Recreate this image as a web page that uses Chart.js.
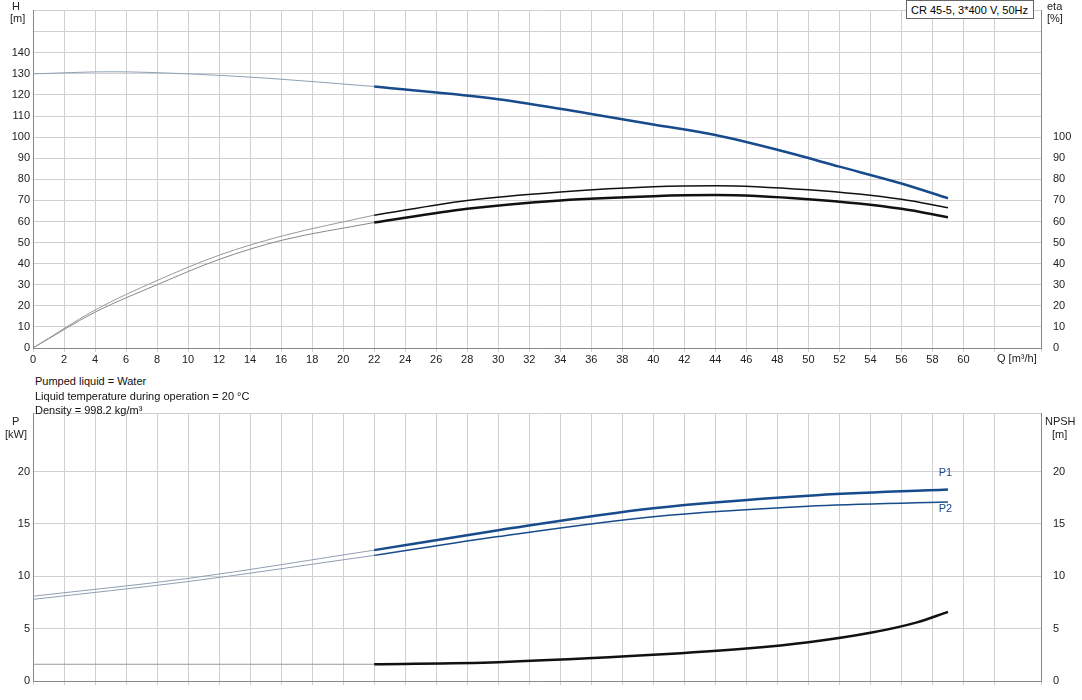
<!DOCTYPE html>
<html><head><meta charset="utf-8">
<script src="https://cdn.jsdelivr.net/npm/chart.js@4"></script>
<style>
body{margin:0;background:#fff;font-family:Arial,"Liberation Sans",sans-serif;}
#c1w{position:absolute;left:0;top:0;width:1082px;height:364px;}
#c2w{position:absolute;left:0;top:400px;width:1082px;height:300px;}
.t{position:absolute;left:35px;font-size:11px;color:#111;}
#box{position:absolute;left:906px;top:0;width:128px;height:19px;border:1px solid #666;font-size:11px;line-height:19px;padding-left:4px;box-sizing:border-box;background:#fff;}
</style></head><body>
<div id="c1w"><canvas id="c1"></canvas></div>
<div id="c2w"><canvas id="c2"></canvas></div>
<div class="t" style="top:375px">Pumped liquid = Water</div>
<div class="t" style="top:390px">Liquid temperature during operation = 20 °C</div>
<div class="t" style="top:404px">Density = 998.2 kg/m³</div>
<div id="box">CR 45-5, 3*400 V, 50Hz</div>
<script>
const qH=[0,5,10,15,22,30,36,40,44,48,52,56,59];
const H=[130,131,130,128,124,118,111,106,101,94,86,78,71];
const qE=[0,4,8,12,16,22,28,34,40,44,50,56,59];
const eta1=[0,18,32,44,53,63,70,74,76.5,77,75,70.5,66.5];
const eta2=[0,17,30,42,51,59.5,66,70,72,72.5,70.5,66,62];
const qP=[0,10,22,30,40,50,59];
const P1=[8.1,9.8,12.5,14.4,16.5,17.7,18.3];
const P2=[7.8,9.5,12,13.8,15.7,16.7,17.1];
const qN=[0,22,30,40,46,50,54,57,59];
const NPSH=[1.6,1.6,1.8,2.5,3.1,3.7,4.6,5.6,6.6];
const split=22;

function pts(xs,ys){return xs.map((x,i)=>({x,y:ys[i]}));}
function parts(xs,ys,thin,thick,wThin,wThick,axis){
  const p=pts(xs,ys);
  const a=p.filter(o=>o.x<=split), b=p.filter(o=>o.x>=split);
  const base={pointRadius:0,cubicInterpolationMode:'monotone',fill:false,yAxisID:axis||'y'};
  return [Object.assign({data:a,borderColor:thin,borderWidth:wThin},base),
          Object.assign({data:b,borderColor:thick,borderWidth:wThick},base)];
}
const tickFont={family:'Arial',size:11};
const gridC='#d0d0d0';
function xScale(show,h){
  return {type:'linear',min:0,max:65,
    ticks:{display:show,stepSize:2,autoSkip:false,font:tickFont,color:'#222',maxRotation:0,padding:1,
      callback:v=>v<=60?v:''},
    grid:{color:gridC,tickLength:4,drawTicks:true},border:{color:'#888'},
    afterFit:s=>{s.height=h;}};
}
const textPlug={id:'txt',afterDraw(ch,a,o){
  const c=ch.ctx;c.save();c.font='11px Arial';c.fillStyle='#222';
  (o.items||[]).forEach(t=>{
    c.textAlign=t.align||'left';c.fillStyle=t.color||'#222';
    const x=t.px!==undefined?t.px:ch.scales.x.getPixelForValue(t.x);
    const y=t.py!==undefined?t.py:ch.scales[t.axis||'y'].getPixelForValue(t.y);
    c.fillText(t.s,x,y);});
  c.restore();}};

new Chart(document.getElementById('c1'),{type:'line',
 data:{datasets:[
  ...parts(qH,H,'#8f9fb5','#174b8c',1,2.5),
  ...parts(qE,eta1,'#999','#111',1,1.5,'y1'),
  ...parts(qE,eta2,'#888','#111',1,2.5,'y1')]},
 options:{responsive:true,maintainAspectRatio:false,animation:false,
  layout:{padding:{top:-13,bottom:1,left:0,right:0}},
  plugins:{legend:{display:false},tooltip:{enabled:false},
   txt:{items:[{s:'H',px:12,py:10},{s:'[m]',px:10,py:22},
     {s:'eta',px:1047,py:10},{s:'[%]',px:1047,py:22},
     {s:'Q [m³/h]',px:997,py:362}]}},
  scales:{x:xScale(true,15),
   y:{min:0,max:160,ticks:{stepSize:10,font:tickFont,color:'#222',padding:3,callback:v=>v<=140?v:''},
     grid:{color:gridC,tickLength:0},border:{color:'#888'},afterFit:s=>{s.width=33;}},
   y1:{position:'right',min:0,max:160,ticks:{stepSize:10,font:tickFont,color:'#222',padding:4,callback:v=>v<=100?v:''},
     grid:{display:false},border:{color:'#888'},afterFit:s=>{s.width=41;}}}},
 plugins:[textPlug]});

new Chart(document.getElementById('c2'),{type:'line',
 data:{datasets:[
  ...parts(qP,P1,'#8f9fb5','#174b8c',1,2.5),
  ...parts(qP,P2,'#8f9fb5','#174b8c',1,1.5),
  ...parts(qN,NPSH,'#999','#111',1,2.5,'y1')]},
 options:{responsive:true,maintainAspectRatio:false,animation:false,
  layout:{padding:{top:13,bottom:0,left:0,right:0}},
  plugins:{legend:{display:false},tooltip:{enabled:false},
   txt:{items:[{s:'P1',x:58.4,y:19.6,color:'#174b8c'},{s:'P2',x:58.4,y:16.1,color:'#174b8c'}]}},
  scales:{x:xScale(false,19),
   y:{min:0,max:25.6,ticks:{stepSize:5,font:tickFont,color:'#222',padding:3,callback:v=>v<=20?v:''},
     grid:{color:gridC,tickLength:0},border:{color:'#888'},afterFit:s=>{s.width=33;}},
   y1:{position:'right',min:0,max:25.6,ticks:{stepSize:5,font:tickFont,color:'#222',padding:4,callback:v=>v<=20?v:''},
     grid:{display:false},border:{color:'#888'},afterFit:s=>{s.width=41;}}}},
 plugins:[textPlug,{id:'ttl',afterDraw(ch){const c=ch.ctx;c.save();c.font='11px Arial';c.fillStyle='#222';
   c.textAlign='left';c.fillText('P',12,25);c.fillText('[kW]',5,38);
   c.fillText('NPSH',1045,25);c.fillText('[m]',1052,38);c.restore();}}]});
</script></body></html>
